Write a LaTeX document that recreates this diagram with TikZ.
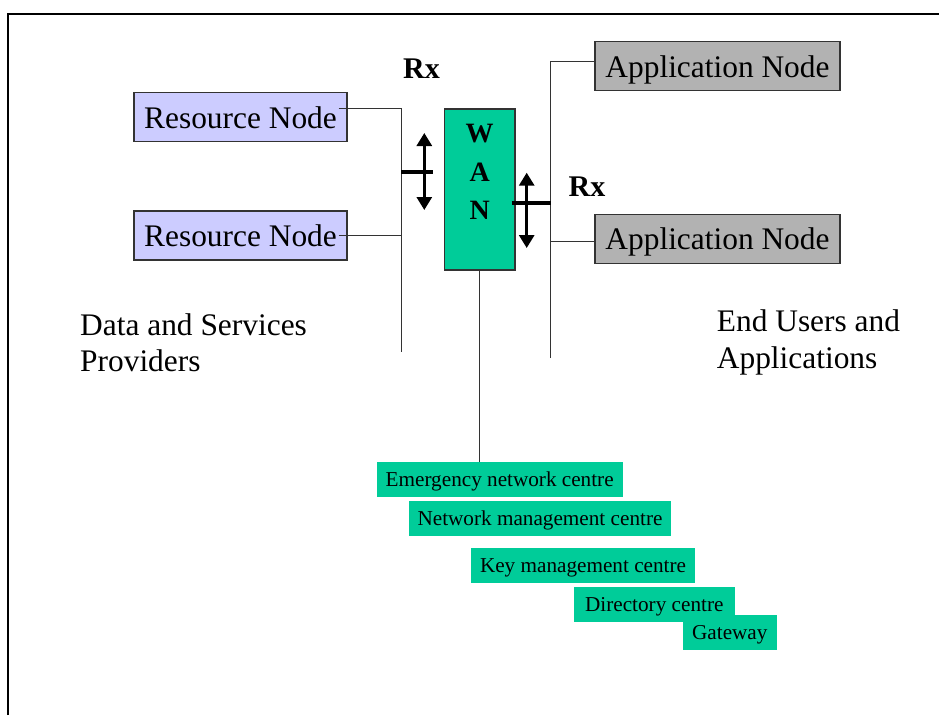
\documentclass[tikz,border=0pt]{standalone}
\usepackage{fontspec}
\setmainfont{Liberation Serif}
\usetikzlibrary{arrows.meta,calc}
\definecolor{lav}{HTML}{CCCCFF}
\definecolor{appgray}{HTML}{B2B2B2}
\definecolor{wangreen}{HTML}{00CC99}
\definecolor{edge}{HTML}{333333}
\begin{document}
\begin{tikzpicture}[x=1pt,y=-1pt,
  bignode/.style={draw=edge,line width=1.3pt,inner sep=0pt,text depth=0pt,font=\fontsize{31.4}{36}\selectfont},
  resnode/.style={bignode,fill=lav,minimum width=213pt,minimum height=49pt},
  appnode/.style={bignode,fill=appgray,minimum width=245pt,minimum height=49pt},
  centre/.style={fill=wangreen,inner sep=0pt,text depth=0pt,minimum height=34.7pt,font=\fontsize{21.2}{24}\selectfont},
  wire/.style={draw=black!80,line width=0.9pt},
  bar/.style={line width=4pt},
  updown/.style={line width=3pt,{Triangle[length=13pt,width=15pt]}-{Triangle[length=13pt,width=15pt]}},
  rxlabel/.style={font=\bfseries\fontsize{30}{36}\selectfont,inner sep=0pt},
  sidelabel/.style={align=left,inner sep=0pt,font=\fontsize{31.4}{36.7}\selectfont}
]
\useasboundingbox (0,0) rectangle (939,715);
% frame
\draw[line width=2.5pt] (8,715) -- (8,14) -- (939,14);

% nodes
\node[resnode] (rn1) at (240.5,117.2) {Resource Node};
\node[resnode] (rn2) at (240.5,235.5) {Resource Node};
\node[appnode] (an1) at (717.5,66.2) {Application Node};
\node[appnode] (an2) at (717.5,238.8) {Application Node};
\node[draw=edge,line width=1.3pt,fill=wangreen,minimum width=70.7pt,minimum height=161pt,inner sep=0pt] (wan) at (479.7,189.5) {};
\node[font=\bfseries\fontsize{28}{38.5}\selectfont,align=center,inner sep=0pt] (wanlbl) at (479.7,172) {W\\A\\N};

\node[rxlabel] (rx1) at (421.5,69) {Rx};
\node[rxlabel] (rx2) at (587,187) {Rx};

\node[sidelabel,anchor=base west] (dsp) at (80,371.7) {Data and Services\\Providers};
\node[sidelabel,anchor=base west] (eua) at (716.7,368.3) {End Users and\\Applications};

\node[centre,minimum width=246pt] (em) at (499.7,479.5) {Emergency network centre};
\node[centre,minimum width=262pt] (nm) at (540,518.3) {Network management centre};
\node[centre,minimum width=224pt] (km) at (583,565.3) {Key management centre};
\node[centre,minimum width=160.7pt] (dc) at (654.3,604.3) {Directory centre};
\node[centre,minimum width=94.3pt] (gw) at (729.8,632.5) {Gateway};

% left bus
\coordinate (lbt) at (401,108.3);
\coordinate (lbb) at (401,352);
\draw[wire] ([shift={(-9,-8.9)}]rn1.east) -- (lbt) -- (lbb);
\draw[wire] ([xshift=-9pt]rn2.east) -- (rn2.east -| lbb);
\coordinate (lbarR) at (432.7,171.7);
\draw[bar] (lbarR -| lbb) -- (lbarR);
\coordinate (laT) at (424.3,133);
\coordinate (laB) at (424.3,210);
\draw[updown] (laB) -- (laT);

% right bus
\coordinate (rbt) at (550.7,61.7);
\coordinate (rbb) at (550.7,358);
\draw[wire] (rbb) -- (rbt) -- (rbt -| an1.west);
\draw[wire] ([yshift=-2.2pt]an2.west) -- ([yshift=-2.2pt]an2.west -| rbb);
\coordinate (rbarL) at (511.7,202.7);
\draw[bar] (rbarL) -- (rbarL -| rbb);
\coordinate (raT) at (526.7,172.7);
\coordinate (raB) at (526.7,248);
\draw[updown] (raB) -- (raT);

% WAN to centres
\draw[wire] (wan.south) -- (wan.south |- em.north);
\end{tikzpicture}
\end{document}
